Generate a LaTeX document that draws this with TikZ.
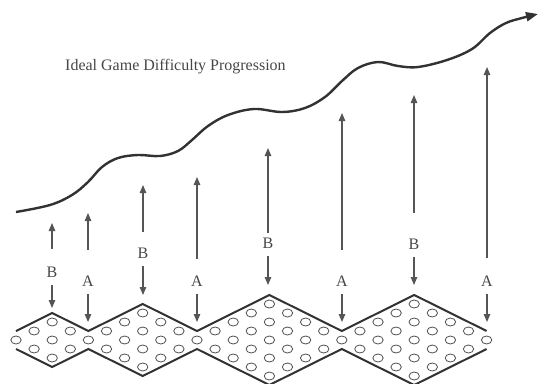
\documentclass[tikz,border=0pt]{standalone}
\usepackage{fontspec}
\setmainfont{Liberation Serif}
\usetikzlibrary{arrows.meta}
\definecolor{inkgray}{RGB}{50,50,50}
\definecolor{dotgray}{RGB}{80,80,80}
\definecolor{labgray}{RGB}{70,70,70}
\definecolor{stakegray}{RGB}{85,85,85}

\begin{document}
\begin{tikzpicture}[x=1pt, y=-1pt,
  zig/.style={inkgray, line width=2pt, line join=miter},
  pellet/.style={dotgray, line width=0.8pt},
  stake/.style={stakegray, line width=1.2pt, -{Triangle[length=8pt,width=6.5pt]}},
  tag/.style={labgray, font=\fontsize{16}{19}\selectfont, inner sep=8pt}]
  \useasboundingbox (0,0) rectangle (540,383);
  % difficulty curve
  \draw[inkgray, line width=2.4pt, -{Triangle[length=12pt,width=9pt]}]
    plot[smooth, tension=0.6] coordinates {(16,212) (50,205) (72,195) (88,182) (102,167)
      (118,158) (138,155) (160,156) (178,151) (192,140) (208,126) (228,115) (254,109)
      (282,112) (305,108) (325,97) (342,81) (358,68) (378,62) (398,66) (418,67)
      (447,60) (472,49) (490,33) (506,23) (522,18) (538,14)};
  \node[labgray, font=\fontsize{16}{19}\selectfont, anchor=base west, inner sep=0pt]
    (title) at (65,70) {Ideal Game Difficulty Progression};
  % zigzag band of levels: column step 18.1, half row 9
  \begin{scope}[shift={(16,340)}, x=18.1pt, y=9pt]
    \draw[zig] (0,1) -- (2,3) -- (4,1) -- (7,4) -- (10,1) -- (14,5) -- (18,1) -- (22,5) -- (26,1);
    \draw[zig] (0,-1) -- (2,-3) -- (4,-1) -- (7,-4) -- (10,-1) -- (14,-5) -- (18,-1) -- (22,-5) -- (26,-1);
    \foreach \k/\d in {0/0,1/1,2/2,3/1,4/0,5/1,6/2,7/3,8/2,9/1,10/0,11/1,12/2,13/3,
                       14/4,15/3,16/2,17/1,18/0,19/1,20/2,21/3,22/4,23/3,24/2,25/1,26/0}
      \foreach \j in {0,...,\d}
        \draw[pellet] (\k,2*\j-\d) ellipse [x radius=5.2pt, y radius=4pt];
  \end{scope}
  % A/B stakes over valleys and peaks
  \foreach \x/\txt/\ly/\ub/\ut/\dt [count=\i] in {52/B/272/249/223/308, 88/A/281/250/213/322,
      143/B/253/232/185/295, 197/A/281/259/177/322, 268/B/243/233/148/285,
      342/A/281/250/113/322, 414/B/244/213/95/285, 487/A/281/258/67/322}{
    \node[tag] (lab\i) at (\x,\ly) {\txt};
    \coordinate (base\i) at (\x,\ub);
    \coordinate (top\i) at (\x,\ut);
    \coordinate (hit\i) at (\x,\dt);
    \draw[stake] (base\i) -- (top\i);
    \draw[stake] (lab\i) -- (hit\i);
  }
\end{tikzpicture}
\end{document}
